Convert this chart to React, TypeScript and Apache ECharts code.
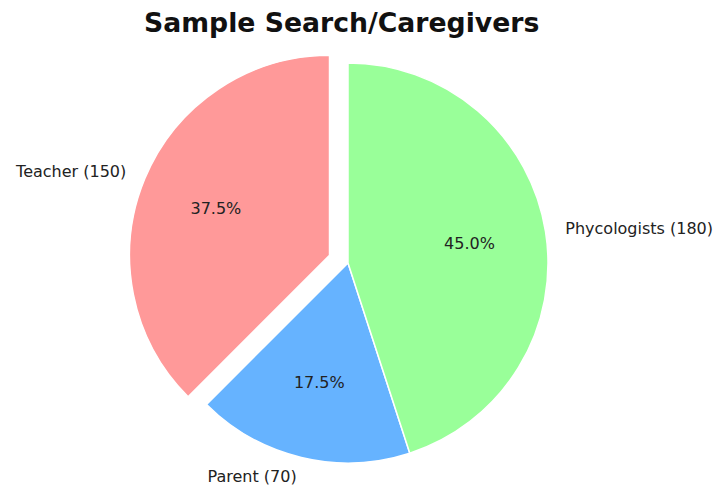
import React, { useEffect, useRef } from "react";
import * as echarts from "echarts";

const categories = ["Teacher", "Parent", "Phycologists"];
const values = [150, 70, 180];
const colors = ["#ff9999", "#66b3ff", "#99ff99"];
const exploded = [true, false, false];
const titleText = "Sample Search/Caregivers";

export default function App() {
  const ref = useRef<HTMLDivElement>(null);
  useEffect(() => {
    document.body.style.margin = "0";
    const chart = echarts.init(ref.current!, null, { renderer: "svg" });
    const font = "DejaVu Sans";
    const data = categories.map((c, i) => ({
      name: c,
      value: values[i],
      selected: exploded[i],
      itemStyle: { color: colors[i] },
    }));
    const dataPct = categories.map((c, i) => ({
      name: c,
      value: values[i],
      selected: exploded[i],
    }));
    chart.setOption({
      animation: false,
      backgroundColor: "#ffffff",
      title: {
        text: titleText,
        left: 139,
        top: 4,
        textStyle: { fontFamily: font, fontWeight: "bold", fontSize: 26.7, color: "#111" },
      },
      series: [
        {
          type: "pie",
          center: [348, 263],
          radius: [0, 200],
          startAngle: 90,
          clockwise: false,
          selectedMode: "multiple",
          selectedOffset: 20,
          avoidLabelOverlap: false,
          data,
          itemStyle: { borderColor: "#ffffff", borderWidth: 1.5 },
          emphasis: { disabled: true },
          label: {
            show: true,
            position: "outside",
            formatter: (p: any) => `${p.name} (${p.value})`,
            fontFamily: font,
            fontSize: 16,
            color: "#222",
            width: 200,
            overflow: "none",
            distanceToLabelLine: 0,
          },
          labelLine: { show: false, length: 20, length2: 0 },
        },
        {
          type: "pie",
          center: [348, 263],
          radius: [0, 240],
          startAngle: 90,
          clockwise: false,
          selectedMode: "multiple",
          selectedOffset: 20,
          silent: true,
          avoidLabelOverlap: false,
          data: dataPct,
          itemStyle: { color: "rgba(0,0,0,0)" },
          emphasis: { disabled: true },
          label: {
            show: true,
            position: "inside",
            formatter: (p: any) => `${p.percent.toFixed(1)}%`,
            fontFamily: font,
            fontSize: 16,
            color: "#222",
          },
          labelLine: { show: false },
        },
      ],
    });
    return () => chart.dispose();
  }, []);
  return <div ref={ref} style={{ width: 720, height: 490 }} />;
}
